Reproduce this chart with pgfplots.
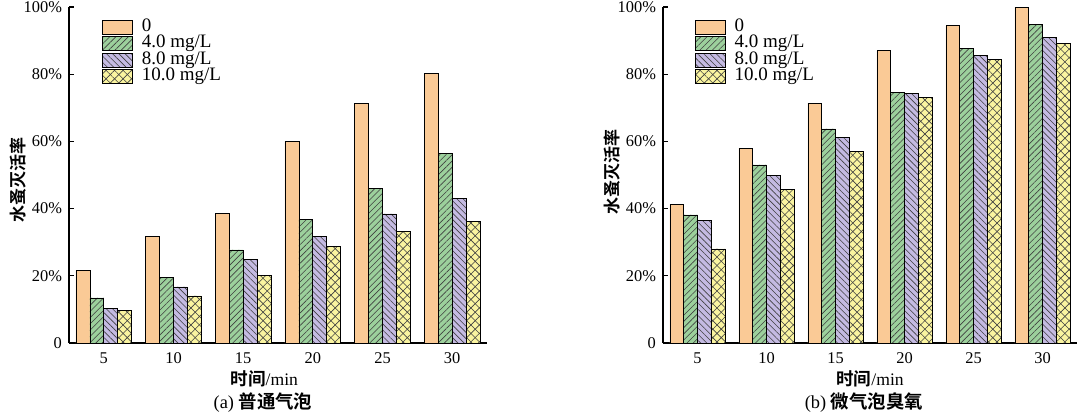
\documentclass[border=0pt]{standalone}
\usepackage{fontspec}
\setmainfont{Liberation Serif}
\newfontfamily\cjkb{Noto Sans CJK SC Bold}
\usepackage{pgfplots}
\usepackage{pgfplotstable}
\pgfplotsset{compat=1.18}
\usetikzlibrary{patterns.meta}

\definecolor{cA}{RGB}{250,202,150}
\definecolor{cB}{RGB}{156,208,156}
\definecolor{cC}{RGB}{196,186,226}
\definecolor{cD}{RGB}{250,244,160}

\pgfplotstableread{
x c0 c4 c8 c10
0 21.7 13.4 10.2 9.6
1 31.8 19.6 16.7 14.0
2 38.6 27.7 24.9 20.0
3 60.0 36.8 31.8 28.7
4 71.4 46.1 38.4 33.3
5 80.1 56.3 43.1 36.1
}\dataA

\pgfplotstableread{
x c0 c4 c8 c10
0 41.3 38.1 36.6 28.0
1 58.0 53.0 50.0 45.8
2 71.4 63.7 61.3 57.1
3 87.0 74.6 74.3 73.1
4 94.4 87.6 85.7 84.4
5 100.0 94.8 91.0 89.2
}\dataB

\pgfplotsset{
  myaxis/.style={
    scale only axis, height=168pt,
    ybar, bar width=0.2,
    legend image code/.code={\draw[##1,draw=black,line width=0.4pt] (0pt,-3.5pt) rectangle (15pt,3.5pt);},
    axis x line*=bottom, axis y line*=left,
    axis line style={-, line width=0.9pt},
    xmin=-0.5, xmax=5.5, ymin=0, ymax=100,
    xtick={0,...,5}, xticklabels={5,10,15,20,25,30},
    ytick={0,20,...,100}, yticklabels={0,20\%,40\%,60\%,80\%,100\%},
    tick align=inside, major tick length=2.5pt,
    tick style={line width=0.6pt, black},
    tick label style={font=\fontsize{8.2}{9}\selectfont},
    xticklabel style={yshift=-1.5pt},
    clip=false,
    legend cell align=left,
    legend style={draw=none, fill=none, inner sep=0pt, outer sep=0pt,
      anchor=north west, column sep=4.5pt,
      font=\fontsize{9.5}{9.5}\selectfont,
      nodes={inner sep=0pt, text height=6pt, text depth=2.25pt}},
  },
  sA/.style={fill=cA, draw=black, line width=0.4pt, bar shift=-0.3},
  sB/.style={fill=cB, draw=black, line width=0.4pt, bar shift=-0.1,
    postaction={pattern={Lines[angle=45,distance=2.2pt,line width=0.3pt]}, pattern color=black!75}},
  sC/.style={fill=cC, draw=black, line width=0.4pt, bar shift=0.1,
    postaction={pattern={Lines[angle=-45,distance=2.2pt,line width=0.3pt]}, pattern color=black!75}},
  sD/.style={fill=cD, draw=black, line width=0.4pt, bar shift=0.3,
    postaction={pattern={Lines[angle=45,distance=3pt,line width=0.3pt]}, pattern color=black!75},
    postaction={pattern={Lines[angle=-45,distance=3pt,line width=0.3pt]}, pattern color=black!75}},
}

\begin{document}
\begin{tikzpicture}
\useasboundingbox (0,0) rectangle (540pt,-207pt);
\begin{axis}[myaxis, width=209pt, at={(34.5pt,-171.5pt)}, anchor=south west,
  legend style={at={(0.079,0.964)}}]
\addplot[sA] table[x=x,y=c0] {\dataA};
\addplot[sB] table[x=x,y=c4] {\dataA};
\addplot[sC] table[x=x,y=c8] {\dataA};
\addplot[sD] table[x=x,y=c10] {\dataA};
\legend{0,4.0 mg/L,8.0 mg/L,10.0 mg/L}
\node[rotate=90, font=\fontsize{8.5}{9}\cjkb] at (rel axis cs:-0.122,0.485) {水蚤灭活率};
\node[font=\fontsize{8.8}{9}\selectfont] at (rel axis cs:0.467,-0.107) {{\cjkb 时间}/min};
\node[font=\fontsize{9.2}{9}\selectfont] at (rel axis cs:0.464,-0.178) {(a) {\cjkb 普通气泡}};
\end{axis}
\begin{axis}[myaxis, width=207pt, at={(331.5pt,-171.5pt)}, anchor=south west,
  legend style={at={(0.077,0.964)}}]
\addplot[sA] table[x=x,y=c0] {\dataB};
\addplot[sB] table[x=x,y=c4] {\dataB};
\addplot[sC] table[x=x,y=c8] {\dataB};
\addplot[sD] table[x=x,y=c10] {\dataB};
\legend{0,4.0 mg/L,8.0 mg/L,10.0 mg/L}
\node[rotate=90, font=\fontsize{8.5}{9}\cjkb] at (rel axis cs:-0.123,0.51) {水蚤灭活率};
\node[font=\fontsize{8.8}{9}\selectfont] at (rel axis cs:0.5,-0.107) {{\cjkb 时间}/min};
\node[font=\fontsize{9.2}{9}\selectfont] at (rel axis cs:0.485,-0.178) {(b) {\cjkb 微气泡臭氧}};
\end{axis}
\end{tikzpicture}
\end{document}
